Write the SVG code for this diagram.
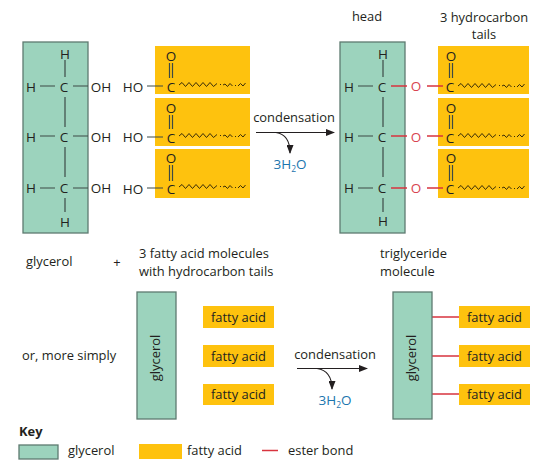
<svg xmlns="http://www.w3.org/2000/svg" xmlns:xlink="http://www.w3.org/1999/xlink" width="550" height="466" viewBox="0 0 550 466">
<style>
text{font-family:"Open Sans","Noto Sans","Liberation Sans",sans-serif;font-size:12.900px;fill:#231f20}
.m{text-anchor:middle}
.a{font-size:13.500px}
.g{fill:#9cd3bd;stroke:#5e7a70;stroke-width:1.3}
.y{fill:#fec20e}
.b{stroke:#3c4a46;stroke-width:1.2;fill:none}
.r{stroke:#d8343f;stroke-width:1.5;fill:none}
.o{fill:#d8434f}
.w{fill:#1b75ae;font-size:13.500px}
.t{fill:none;stroke:#3a2d08;stroke-width:1}
.ar{stroke:#231f20;stroke-width:1.1;fill:none}
.s{font-size:8.500px}
</style>
<defs>
<marker id="h" markerWidth="9" markerHeight="7" refX="8" refY="3.5" orient="auto" markerUnits="userSpaceOnUse"><path d="M0 0L9 3.5L0 7Z" fill="#231f20"/></marker>
<path id="wv" class="t" d="M179 0l3-2.500 3.500 4 3.500-4 3.500 4 3.500-4 3.500 4 3.500-4 3.500 4 3.500-4 3.500 4 3.500-3M220-1l1 1M223 0l2-1 2.500 2.500 2.500-3 2.500 2.500M235 0l1 1M238 1l2.500-2.500 2.500 2.500 2.500-3"/>
</defs>
<g id="glycerol-full">
<rect class="g" x="23" y="42" width="65" height="191"/>
<text class="a m" x="65" y="59">H</text><text class="a m" x="64" y="92">C</text><text class="a m" x="31" y="92">H</text><text class="a m" x="101" y="92">OH</text>
<text class="a m" x="64" y="142">C</text><text class="a m" x="31" y="142">H</text><text class="a m" x="101" y="142">OH</text>
<text class="a m" x="64" y="193">C</text><text class="a m" x="31" y="193">H</text><text class="a m" x="101" y="193">OH</text>
<text class="a m" x="65" y="227">H</text>
<path class="b" d="M65 60V77M40 86H55M73 86H88M65 97V127M40 136H55M73 136H88M65 147V177M40 188H55M73 188H88M65 198V212"/>
</g>
<g id="fatty-acids-full">
<rect class="y" x="155" y="46" width="95" height="48"/><rect class="y" x="155" y="98" width="95" height="48"/><rect class="y" x="155" y="149" width="95" height="49"/>
<text class="a m" x="171" y="61">O</text><text class="a m" x="171" y="92">C</text><text class="a m" x="133" y="92">HO</text>
<text class="a m" x="171" y="113">O</text><text class="a m" x="171" y="143">C</text><text class="a m" x="133" y="142">HO</text>
<text class="a m" x="171" y="163">O</text><text class="a m" x="171" y="194">C</text><text class="a m" x="133" y="194">HO</text>
<path class="b" d="M147 86H163M147 137H163M147 188H163M169.500 63V78M172.500 63V78M169.500 115V129M172.500 115V129M169.500 165V181M172.500 165V181"/>
<use xlink:href="#wv" y="85"/><use xlink:href="#wv" y="136"/><use xlink:href="#wv" y="187"/>
</g>
<g id="triglyceride-full">
<rect class="g" x="340" y="42" width="65" height="191"/>
<text class="a m" x="383" y="59">H</text><text class="a m" x="382" y="92">C</text><text class="a m" x="349" y="92">H</text>
<text class="a m" x="382" y="142">C</text><text class="a m" x="349" y="142">H</text>
<text class="a m" x="382" y="193">C</text><text class="a m" x="349" y="193">H</text>
<text class="a m" x="383" y="226">H</text>
<rect class="y" x="438" y="46" width="91" height="48"/><rect class="y" x="438" y="98" width="91" height="48"/><rect class="y" x="438" y="149" width="91" height="49"/>
<text class="a m" x="451" y="61">O</text><text class="a m" x="450" y="92">C</text>
<text class="a m" x="451" y="113">O</text><text class="a m" x="450" y="143">C</text>
<text class="a m" x="451" y="163">O</text><text class="a m" x="450" y="194">C</text>
<text class="a m o" x="416" y="91">O</text><text class="a m o" x="416" y="142">O</text><text class="a m o" x="416" y="193">O</text>
<path class="b" d="M383 60V77M358 86H373M383 97V127M358 136H373M383 147V177M358 188H373M383 198V212M449.500 63V78M452.500 63V78M449.500 115V129M452.500 115V129M449.500 165V181M452.500 165V181"/>
<path class="r" d="M391 86H407M427 86H443M391 136H407M427 136H443M391 188H407M427 188H443"/>
<use xlink:href="#wv" x="279" y="86"/><use xlink:href="#wv" x="279" y="136"/><use xlink:href="#wv" x="279" y="188"/>
</g>
<g id="connectors">
<path class="ar" d="M256 132.500H334" marker-end="url(#h)"/>
<path class="ar" d="M276 132.500C286 134 290 141 290 153" marker-end="url(#h)"/>
<path class="ar" d="M297 368.500H367" marker-end="url(#h)"/>
<path class="ar" d="M317 368.500C327 370 332 377 332 389" marker-end="url(#h)"/>
<path class="r" d="M432 317H459M432 356H459M432 394H459"/>
</g>
<g id="labels">
<text class="m" x="294" y="122">condensation</text>
<text class="m w" x="290" y="169">3H<tspan class="s w" dy="3" style="font-size:8.500px">2</tspan><tspan dy="-3" class="w">O</tspan></text>
<text class="m" x="367" y="21">head</text>
<text class="m" x="484" y="22">3 hydrocarbon</text><text class="m" x="484" y="39">tails</text>
<text x="26" y="266">glycerol</text>
<text class="m" x="117" y="267">+</text>
<text x="139" y="258">3 fatty acid molecules</text><text x="139" y="276">with hydrocarbon tails</text>
<text x="380" y="258">triglyceride</text><text x="380" y="276">molecule</text>
<text x="22" y="360">or, more simply</text>
<text class="m" x="335" y="359">condensation</text>
<text class="m w" x="335" y="405">3H<tspan class="s w" dy="3" style="font-size:8.500px">2</tspan><tspan dy="-3" class="w">O</tspan></text>
</g>
<g id="glycerol-simple">
<rect class="g" x="137" y="292" width="39" height="127"/>
<text class="m" transform="translate(160 358) rotate(-90)">glycerol</text>
</g>
<g id="fatty-acid-1"><rect class="y" x="203" y="306" width="71" height="22"/><text class="m" x="238.500" y="321.500">fatty acid</text></g>
<g id="fatty-acid-2"><rect class="y" x="203" y="345" width="71" height="22"/><text class="m" x="238.500" y="360.500">fatty acid</text></g>
<g id="fatty-acid-3"><rect class="y" x="203" y="384" width="71" height="21"/><text class="m" x="238.500" y="399">fatty acid</text></g>
<g id="glycerol-simple-2">
<rect class="g" x="393" y="292" width="39" height="127"/>
<text class="m" transform="translate(416 358) rotate(-90)">glycerol</text>
</g>
<g id="fatty-acid-4"><rect class="y" x="459" y="306" width="71" height="22"/><text class="m" x="494.500" y="321.500">fatty acid</text></g>
<g id="fatty-acid-5"><rect class="y" x="459" y="345" width="71" height="22"/><text class="m" x="494.500" y="360.500">fatty acid</text></g>
<g id="fatty-acid-6"><rect class="y" x="459" y="384" width="71" height="21"/><text class="m" x="494.500" y="399">fatty acid</text></g>
<g id="key">
<text x="19" y="436" style="font-weight:700">Key</text>
<rect class="g" x="19" y="445" width="39" height="14"/>
<text x="68" y="455">glycerol</text>
<rect class="y" x="139" y="444" width="43" height="15"/>
<text x="187" y="455">fatty acid</text>
<path class="r" d="M262 450.500H278"/>
<text x="288" y="455">ester bond</text>
</g>
</svg>
